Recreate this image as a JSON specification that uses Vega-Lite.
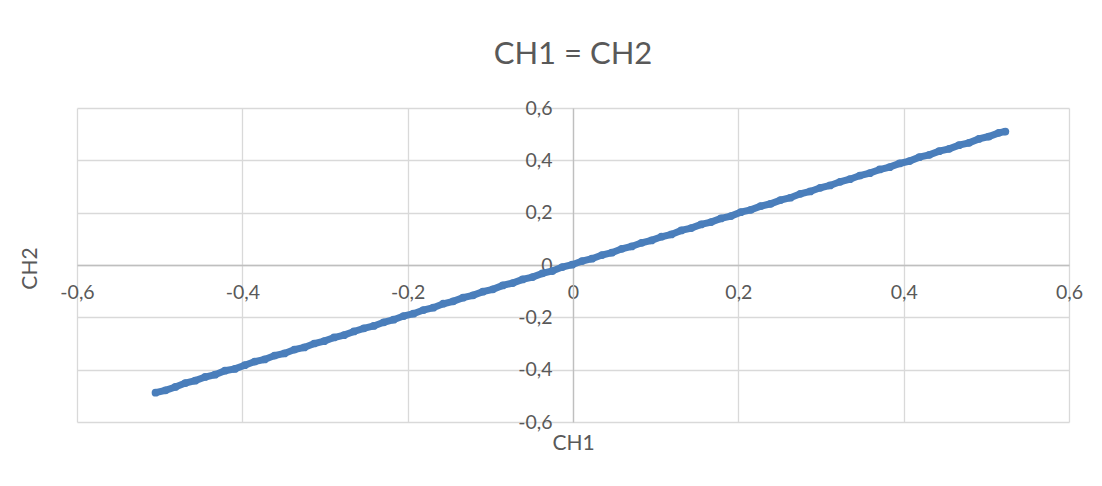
{
  "$schema": "https://vega.github.io/schema/vega-lite/v6.json",
  "width": 992,
  "height": 314,
  "autosize": {"type": "none"},
  "padding": {"left": 77, "top": 108, "right": 33, "bottom": 64},
  "background": "white",
  "title": {"text": "CH1 = CH2", "fontSize": 31, "font": "Lato", "fontWeight": "normal", "color": "#595959", "anchor": "middle", "offset": 42, "baseline": "alphabetic", "dy": 39},
  "config": {"view": {"stroke": null}},
  "data": {"values": [
    {"CH1": -0.505, "CH2": -0.488}, {"CH1": -0.493, "CH2": -0.479}, {"CH1": -0.481, "CH2": -0.466}, {"CH1": -0.469, "CH2": -0.451},
    {"CH1": -0.457, "CH2": -0.442}, {"CH1": -0.445, "CH2": -0.428}, {"CH1": -0.433, "CH2": -0.419}, {"CH1": -0.421, "CH2": -0.404},
    {"CH1": -0.409, "CH2": -0.397}, {"CH1": -0.397, "CH2": -0.383}, {"CH1": -0.385, "CH2": -0.369}, {"CH1": -0.373, "CH2": -0.361},
    {"CH1": -0.361, "CH2": -0.346}, {"CH1": -0.349, "CH2": -0.338}, {"CH1": -0.337, "CH2": -0.323}, {"CH1": -0.325, "CH2": -0.315},
    {"CH1": -0.313, "CH2": -0.300}, {"CH1": -0.301, "CH2": -0.291}, {"CH1": -0.289, "CH2": -0.277}, {"CH1": -0.277, "CH2": -0.268},
    {"CH1": -0.265, "CH2": -0.254}, {"CH1": -0.253, "CH2": -0.242}, {"CH1": -0.241, "CH2": -0.233}, {"CH1": -0.229, "CH2": -0.219},
    {"CH1": -0.217, "CH2": -0.209}, {"CH1": -0.205, "CH2": -0.195}, {"CH1": -0.193, "CH2": -0.186}, {"CH1": -0.181, "CH2": -0.172},
    {"CH1": -0.169, "CH2": -0.163}, {"CH1": -0.157, "CH2": -0.148}, {"CH1": -0.145, "CH2": -0.139}, {"CH1": -0.133, "CH2": -0.125},
    {"CH1": -0.121, "CH2": -0.116}, {"CH1": -0.109, "CH2": -0.102}, {"CH1": -0.097, "CH2": -0.093}, {"CH1": -0.085, "CH2": -0.078},
    {"CH1": -0.073, "CH2": -0.069}, {"CH1": -0.061, "CH2": -0.055}, {"CH1": -0.049, "CH2": -0.046}, {"CH1": -0.037, "CH2": -0.032},
    {"CH1": -0.025, "CH2": -0.023}, {"CH1": -0.013, "CH2": -0.008}, {"CH1": -0.001, "CH2": 0.001}, {"CH1": 0.011, "CH2": 0.015},
    {"CH1": 0.023, "CH2": 0.024}, {"CH1": 0.035, "CH2": 0.038}, {"CH1": 0.047, "CH2": 0.047}, {"CH1": 0.059, "CH2": 0.062},
    {"CH1": 0.071, "CH2": 0.071}, {"CH1": 0.083, "CH2": 0.085}, {"CH1": 0.095, "CH2": 0.094}, {"CH1": 0.107, "CH2": 0.108},
    {"CH1": 0.119, "CH2": 0.117}, {"CH1": 0.131, "CH2": 0.132}, {"CH1": 0.143, "CH2": 0.141}, {"CH1": 0.155, "CH2": 0.155},
    {"CH1": 0.167, "CH2": 0.164}, {"CH1": 0.179, "CH2": 0.178}, {"CH1": 0.191, "CH2": 0.187}, {"CH1": 0.203, "CH2": 0.202},
    {"CH1": 0.215, "CH2": 0.211}, {"CH1": 0.227, "CH2": 0.225}, {"CH1": 0.239, "CH2": 0.234}, {"CH1": 0.251, "CH2": 0.248},
    {"CH1": 0.263, "CH2": 0.257}, {"CH1": 0.275, "CH2": 0.272}, {"CH1": 0.287, "CH2": 0.281}, {"CH1": 0.299, "CH2": 0.295},
    {"CH1": 0.311, "CH2": 0.304}, {"CH1": 0.323, "CH2": 0.318}, {"CH1": 0.335, "CH2": 0.328}, {"CH1": 0.347, "CH2": 0.342},
    {"CH1": 0.359, "CH2": 0.351}, {"CH1": 0.371, "CH2": 0.365}, {"CH1": 0.383, "CH2": 0.374}, {"CH1": 0.395, "CH2": 0.388},
    {"CH1": 0.407, "CH2": 0.397}, {"CH1": 0.419, "CH2": 0.412}, {"CH1": 0.431, "CH2": 0.421}, {"CH1": 0.443, "CH2": 0.435},
    {"CH1": 0.455, "CH2": 0.444}, {"CH1": 0.467, "CH2": 0.458}, {"CH1": 0.479, "CH2": 0.467}, {"CH1": 0.491, "CH2": 0.482},
    {"CH1": 0.503, "CH2": 0.491}, {"CH1": 0.515, "CH2": 0.505}, {"CH1": 0.523, "CH2": 0.510}
  ]},
  "layer": [
    {
      "mark": {"type": "line", "color": "#4a7ebb", "strokeWidth": 7},
      "encoding": {
        "x": {"field": "CH1", "type": "quantitative", "scale": {"domain": [-0.6, 0.6], "nice": false, "zero": false},
          "axis": {"orient": "bottom", "grid": true, "gridColor": "#d9d9d9", "gridWidth": 1.3, "values": [-0.6, -0.4, -0.2, 0, 0.2, 0.4, 0.6], "labels": false, "ticks": false, "domain": false, "title": null}},
        "y": {"field": "CH2", "type": "quantitative", "scale": {"domain": [-0.6, 0.6], "nice": false, "zero": false},
          "axis": {"orient": "left", "grid": true, "gridColor": "#d9d9d9", "gridWidth": 1.3, "values": [-0.6, -0.4, -0.2, 0, 0.2, 0.4, 0.6], "labels": false, "ticks": false, "domain": false, "title": null}}
      }
    },
    {
      "mark": {"type": "point", "filled": true, "color": "#4a7ebb", "size": 60, "opacity": 1},
      "encoding": {
        "x": {"field": "CH1", "type": "quantitative", "scale": {"domain": [-0.6, 0.6], "nice": false, "zero": false},
          "axis": {"orient": "bottom", "offset": -157, "grid": false, "ticks": false, "domainColor": "#bfbfbf", "domainWidth": 1.3,
            "values": [-0.6, -0.4, -0.2, 0, 0.2, 0.4, 0.6],
            "labelExpr": "replace(toString(datum.value), '.', ',')",
            "labelFont": "Lato", "labelFontSize": 19.5, "labelColor": "#595959", "labelPadding": 18,
            "labelOverlap": false, "labelFlush": false,
            "title": "CH1", "titleFont": "Lato", "titleFontSize": 21, "titleFontWeight": "normal", "titleColor": "#595959",
            "titleX": 496, "titleY": 178, "titleBaseline": "middle", "titleAlign": "center"}},
        "y": {"field": "CH2", "type": "quantitative", "scale": {"domain": [-0.6, 0.6], "nice": false, "zero": false},
          "axis": {"orient": "left", "offset": -496, "grid": false, "ticks": false, "domainColor": "#bfbfbf", "domainWidth": 1.3,
            "values": [-0.6, -0.4, -0.2, 0, 0.2, 0.4, 0.6],
            "labelExpr": "replace(toString(datum.value), '.', ',')",
            "labelFont": "Lato", "labelFontSize": 19.5, "labelColor": "#595959", "labelPadding": 21,
            "labelOverlap": false, "labelFlush": false,
            "title": "CH2", "titleFont": "Lato", "titleFontSize": 21, "titleFontWeight": "normal", "titleColor": "#595959",
            "titleX": -543, "titleY": 160, "titleBaseline": "middle", "titleAlign": "center", "titleAngle": -90}}
      }
    }
  ],
  "resolve": {"axis": {"x": "independent", "y": "independent"}}
}
